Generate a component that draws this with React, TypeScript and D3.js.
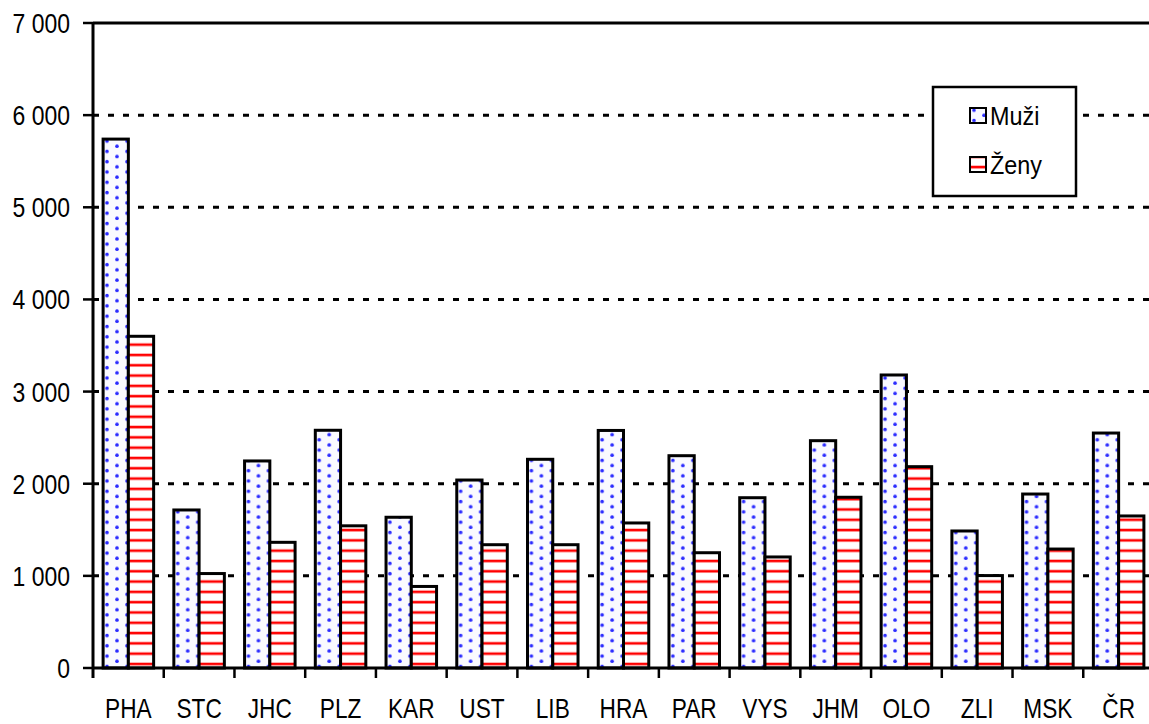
import React, { useEffect, useRef } from 'react';
import * as d3 from 'd3';

// regions (kraje) + whole country
const categories = ['PHA', 'STC', 'JHC', 'PLZ', 'KAR', 'UST', 'LIB', 'HRA', 'PAR', 'VYS', 'JHM', 'OLO', 'ZLI', 'MSK', 'ČR'];
const seriesNames = ['Muži', 'Ženy'];
const muzi = [5740, 1715, 2247, 2580, 1636, 2040, 2265, 2578, 2304, 1848, 2467, 3180, 1487, 1888, 2550];
const zeny = [3600, 1025, 1364, 1543, 885, 1338, 1338, 1574, 1251, 1205, 1853, 2185, 1003, 1291, 1650];
const yTicks = [0, 1000, 2000, 3000, 4000, 5000, 6000, 7000];

const FONT = '"Liberation Sans", Arial, sans-serif';

const App: React.FC = () => {
  const chartRef = useRef<SVGSVGElement | null>(null);

  useEffect(() => {
    const svg = d3.select(chartRef.current);
    svg.selectAll('*').remove();

    const width = 1149;
    const height = 724;
    const left = 93;
    const right = 1154; // plot runs past the window edge
    const top = 23;
    const bottom = 668;

    svg.attr('width', width).attr('height', height);

    // Patterns
    const defs = svg.append('defs');
    const dots = defs
      .append('pattern')
      .attr('id', 'dots')
      .attr('patternUnits', 'userSpaceOnUse')
      .attr('width', 20)
      .attr('height', 10.3);
    dots.append('rect').attr('width', 20).attr('height', 10.3).attr('fill', '#fafaff');
    dots.append('circle').attr('cx', 4).attr('cy', 2).attr('r', 1.8).attr('fill', '#2a2aff');
    dots.append('circle').attr('cx', 14).attr('cy', 7.15).attr('r', 1.8).attr('fill', '#2a2aff');

    const stripes = defs
      .append('pattern')
      .attr('id', 'stripes')
      .attr('patternUnits', 'userSpaceOnUse')
      .attr('width', 10)
      .attr('height', 10.3);
    stripes.append('rect').attr('width', 10).attr('height', 10.3).attr('fill', '#ffffff');
    stripes.append('rect').attr('y', 3).attr('width', 10).attr('height', 3.4).attr('fill', '#ffb0b0');
    stripes.append('rect').attr('y', 3.7).attr('width', 10).attr('height', 2.2).attr('fill', '#ff0000');

    const fills: Record<string, string> = { Muži: 'url(#dots)', Ženy: 'url(#stripes)' };

    // Scales
    const x0 = d3.scaleBand().domain(categories).range([left, right]).padding(0);
    const x1 = d3
      .scaleBand()
      .domain(seriesNames)
      .range([0, x0.bandwidth()])
      .paddingInner(0)
      .paddingOuter(0.4);
    const y = d3.scaleLinear().domain([0, 7000]).range([bottom, top]);

    // Gridlines
    svg
      .append('g')
      .selectAll('line')
      .data(yTicks.filter((t) => t > 0 && t < 7000))
      .enter()
      .append('line')
      .attr('x1', left)
      .attr('x2', width)
      .attr('y1', (d) => y(d))
      .attr('y2', (d) => y(d))
      .attr('stroke', '#000')
      .attr('stroke-width', 3)
      .attr('stroke-dasharray', '6,9');

    // top border
    svg
      .append('line')
      .attr('x1', left)
      .attr('x2', width)
      .attr('y1', y(7000))
      .attr('y2', y(7000))
      .attr('stroke', '#000')
      .attr('stroke-width', 3);

    // Bars
    const rows = categories.map((c, i) => ({ cat: c, values: [muzi[i], zeny[i]] }));
    svg
      .append('g')
      .selectAll('g')
      .data(rows)
      .enter()
      .append('g')
      .attr('transform', (d) => `translate(${x0(d.cat)},0)`)
      .selectAll('rect')
      .data((d) => seriesNames.map((s, j) => ({ s, v: d.values[j] })))
      .enter()
      .append('rect')
      .attr('x', (d) => x1(d.s)!)
      .attr('y', (d) => y(d.v))
      .attr('width', x1.bandwidth())
      .attr('height', (d) => bottom - y(d.v))
      .attr('fill', (d) => fills[d.s])
      .attr('stroke', '#000')
      .attr('stroke-width', 3);

    // y axis: ticks + narrow labels
    svg
      .append('g')
      .selectAll('line')
      .data(yTicks)
      .enter()
      .append('line')
      .attr('x1', left - 10)
      .attr('x2', left)
      .attr('y1', (d) => y(d))
      .attr('y2', (d) => y(d))
      .attr('stroke', '#000')
      .attr('stroke-width', 2.5);
    svg
      .append('g')
      .selectAll('text')
      .data(yTicks)
      .enter()
      .append('text')
      .attr('transform', (d) => `translate(70,${y(d) + 10}) scale(0.82,1)`)
      .attr('text-anchor', 'end')
      .attr('font-family', FONT)
      .attr('font-size', 28)
      .attr('fill', '#000')
      .text((d) => d3.format(',')(d).replace(/,/g, ' '));
    svg
      .append('line')
      .attr('x1', left)
      .attr('x2', left)
      .attr('y1', top)
      .attr('y2', bottom + 10)
      .attr('stroke', '#000')
      .attr('stroke-width', 3);

    // x axis line and ticks between categories
    svg
      .append('line')
      .attr('x1', left)
      .attr('x2', width)
      .attr('y1', bottom)
      .attr('y2', bottom)
      .attr('stroke', '#000')
      .attr('stroke-width', 3);
    svg
      .append('g')
      .selectAll('line')
      .data(categories.slice(1))
      .enter()
      .append('line')
      .attr('x1', (d) => x0(d)!)
      .attr('x2', (d) => x0(d)!)
      .attr('y1', bottom)
      .attr('y2', bottom + 10)
      .attr('stroke', '#000')
      .attr('stroke-width', 2.5);
    svg
      .append('g')
      .selectAll('text')
      .data(categories)
      .enter()
      .append('text')
      .attr('transform', (d) => `translate(${x0(d)! + x0.bandwidth() / 2},718) scale(0.84,1)`)
      .attr('text-anchor', 'middle')
      .attr('font-family', FONT)
      .attr('font-size', 27)
      .attr('fill', '#000')
      .text((d) => d);

    // Legend
    const lg = svg.append('g');
    lg.append('rect')
      .attr('x', 933)
      .attr('y', 87)
      .attr('width', 143)
      .attr('height', 109)
      .attr('fill', '#fff')
      .attr('stroke', '#000')
      .attr('stroke-width', 2.5);
    const item = lg
      .selectAll('g')
      .data(seriesNames)
      .enter()
      .append('g')
      .attr('transform', (d, i) => `translate(0,${i * 49})`);
    item
      .append('rect')
      .attr('x', 970)
      .attr('y', 108)
      .attr('width', 16)
      .attr('height', 15)
      .attr('fill', (d) => fills[d])
      .attr('stroke', '#000')
      .attr('stroke-width', 2);
    item
      .append('text')
      .attr('transform', 'translate(990,125) scale(0.9,1)')
      .attr('font-family', FONT)
      .attr('font-size', 26)
      .attr('fill', '#000')
      .text((d) => d);
  }, []);

  return (
    <svg
      ref={chartRef}
      style={{ position: 'absolute', left: 0, top: 0, display: 'block', background: '#fff' }}
    ></svg>
  );
};

export default App;
